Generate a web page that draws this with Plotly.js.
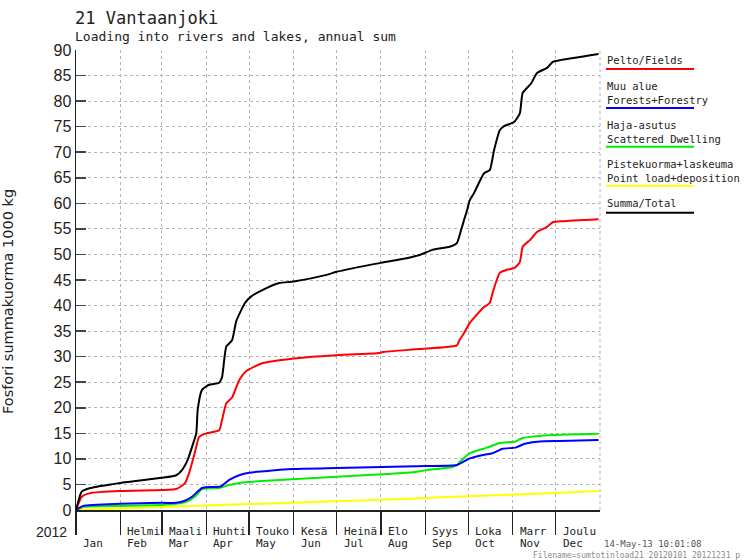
<!DOCTYPE html>
<html>
<head>
<meta charset="utf-8">
<script src="https://cdn.plot.ly/plotly-3.0.1.min.js"></script>
<style>html,body{margin:0;padding:0;background:#fff;}#chart{width:755px;height:560px;}</style>
</head>
<body>
<div id="chart"></div>
<script>
// ---- Data ----
const monthStarts = ['2012-01-01','2012-02-01','2012-03-01','2012-04-01','2012-05-01','2012-06-01',
  '2012-07-01','2012-08-01','2012-09-01','2012-10-01','2012-11-01','2012-12-01'];
const monthsFi = ['', 'Helmi', 'Maali', 'Huhti', 'Touko', 'Kesä', 'Heinä', 'Elo', 'Syys', 'Loka', 'Marr', 'Joulu'];
const monthsEn = ['Jan','Feb','Mar','Apr','May','Jun','Jul','Aug','Sep','Oct','Nov','Dec'];
const yearLabel = '2012';

const fieldsDates = ['2012-01-01','2012-01-05','2012-01-11','2012-02-01','2012-03-01','2012-03-11','2012-03-17','2012-03-20',
  '2012-03-24','2012-03-27','2012-04-01','2012-04-10','2012-04-12','2012-04-15','2012-04-19','2012-04-24','2012-04-29',
  '2012-05-10','2012-05-22','2012-06-14','2012-07-01','2012-07-31','2012-08-02','2012-08-28','2012-09-23','2012-09-25',
  '2012-09-28','2012-10-02','2012-10-05','2012-10-12','2012-10-16','2012-10-18','2012-10-23','2012-10-28','2012-11-02',
  '2012-11-06','2012-11-08','2012-11-13','2012-11-18','2012-11-25','2012-11-29','2012-12-06','2012-12-31'];
const fieldsValues = [0,2.6,3.3,3.7,3.9,4.1,5.2,7.2,11.2,14.3,15.0,15.6,17.6,20.9,22.0,25.4,27.2,
  28.7,29.3,30.0,30.3,30.7,30.9,31.5,32.2,33.3,34.6,36.6,37.6,39.7,40.5,42.5,46.4,47.0,47.3,
  48.5,51.5,52.8,54.4,55.4,56.3,56.5,56.9];

const forestDates = ['2012-01-01','2012-01-06','2012-02-01','2012-03-01','2012-03-11','2012-03-17','2012-03-22','2012-03-29',
  '2012-04-03','2012-04-11','2012-04-17','2012-04-24','2012-05-01','2012-05-31','2012-07-01','2012-08-02','2012-09-02',
  '2012-09-23','2012-10-02','2012-10-14','2012-10-18','2012-10-25','2012-11-03','2012-11-09','2012-11-20','2012-12-04','2012-12-31'];
const forestValues = [0,0.8,1.2,1.4,1.4,1.8,2.6,4.3,4.5,4.6,5.9,6.8,7.3,8.0,8.2,8.4,8.6,8.8,10.1,10.9,11.1,12.0,12.2,12.9,13.4,13.5,13.7];

const dwellingDates = ['2012-01-01','2012-01-06','2012-02-01','2012-03-01','2012-03-11','2012-03-18','2012-03-24','2012-03-29',
  '2012-04-10','2012-04-17','2012-04-24','2012-05-01','2012-05-31','2012-07-01','2012-08-02','2012-08-23','2012-09-02',
  '2012-09-20','2012-09-23','2012-09-25','2012-10-02','2012-10-14','2012-10-23','2012-11-03','2012-11-08','2012-11-20','2012-12-04','2012-12-31'];
const dwellingValues = [0,0.6,0.8,1.0,1.2,1.6,2.6,4.1,4.3,4.9,5.3,5.5,6.0,6.5,7.0,7.4,7.8,8.4,8.8,9.4,11.1,12.2,13.1,13.4,14.1,14.5,14.7,14.9];

const pointDates = ['2012-01-01','2012-02-01','2012-03-01','2012-04-01','2012-05-01','2012-06-01','2012-07-01',
  '2012-08-01','2012-09-01','2012-10-01','2012-11-01','2012-12-01','2012-12-31'];
const pointValues = [0,0.3,0.6,0.9,1.15,1.4,1.7,2.0,2.35,2.7,3.0,3.35,3.7];

const totalDates = ['2012-01-01','2012-01-04','2012-01-05','2012-01-11','2012-02-01','2012-03-01','2012-03-11','2012-03-15',
  '2012-03-19','2012-03-22','2012-03-25','2012-03-26','2012-03-29','2012-04-03','2012-04-10','2012-04-12','2012-04-15',
  '2012-04-19','2012-04-22','2012-04-28','2012-05-02','2012-05-13','2012-05-22','2012-06-01','2012-06-24','2012-07-01',
  '2012-07-31','2012-08-14','2012-08-28','2012-09-06','2012-09-18','2012-09-23','2012-09-26','2012-09-28','2012-09-30',
  '2012-10-02','2012-10-05','2012-10-12','2012-10-16','2012-10-19','2012-10-23','2012-10-26','2012-11-02','2012-11-06',
  '2012-11-08','2012-11-14','2012-11-18','2012-11-25','2012-11-29','2012-12-04','2012-12-31'];
const totalValues = [0,3.0,3.6,4.3,5.3,6.3,6.8,7.8,9.8,12.3,15.0,19.6,23.5,24.5,24.9,26.0,32.0,
  33.2,37.0,40.5,41.7,43.4,44.4,44.7,46.0,46.6,48.3,49.0,49.9,50.9,51.5,52.2,54.8,56.7,58.5,
  60.6,62.0,65.9,66.5,70.4,74.3,75.1,75.9,77.6,81.6,83.5,85.5,86.5,87.7,88.0,89.2];

const seriesNames = ['Pelto/Fields', 'Muu alue<br>Forests+Forestry', 'Haja-asutus<br>Scattered Dwelling',
  'Pistekuorma+laskeuma<br>Point load+deposition', 'Summa/Total'];
const seriesColors = ['#ff0000', '#0000ff', '#00ee00', '#ffff00', '#000000'];
const seriesX = [fieldsDates, forestDates, dwellingDates, pointDates, totalDates];
const seriesY = [fieldsValues, forestValues, dwellingValues, pointValues, totalValues];

const titleText = '21 Vantaanjoki';
const subtitleText = 'Loading into rivers and lakes, annual sum';
const yTitle = 'Fosfori summakuorma 1000 kg';
const stampText = '14-May-13 10:01:08';
const fileText = 'Filename=sumtotinload21 20120101 20121231 p';

// ---- Layout helpers ----
const L = 76, R = 155, T = 50, B = 50, W = 755, H = 560;
const pw = W - L - R, ph = H - T - B;
const py = p => (H - B - p) / ph;       // pixel row -> paper y
const px = p => (p - L) / pw;           // pixel column -> paper x
const MONO = 'DejaVu Sans Mono';

const drawOrder = [3, 2, 1, 0, 4];
const traces = drawOrder.map(i => ({
  type: 'scatter', mode: 'lines', name: seriesNames[i].replace('<br>', ' '),
  x: seriesX[i], y: seriesY[i], showlegend: false,
  line: {color: seriesColors[i], width: 2, shape: 'spline', smoothing: 0.5}, hoverinfo: 'skip'
}));

const annotations = [];
annotations.push({text: titleText, xref: 'paper', yref: 'paper', x: px(73), y: py(17.5), xanchor: 'left', yanchor: 'middle',
  showarrow: false, font: {family: MONO, size: 17, color: '#222'}});
annotations.push({text: subtitleText, xref: 'paper', yref: 'paper', x: px(73), y: py(36.5), xanchor: 'left', yanchor: 'middle',
  showarrow: false, font: {family: MONO, size: 13, color: '#222'}});

monthStarts.forEach((d, i) => {
  if (monthsFi[i]) annotations.push({text: monthsFi[i], xref: 'x', yref: 'paper', x: d, xshift: 5, y: py(531.5),
    xanchor: 'left', yanchor: 'middle', showarrow: false, font: {family: MONO, size: 11, color: '#222'}});
  annotations.push({text: monthsEn[i], xref: 'x', yref: 'paper', x: d, xshift: 5, y: py(543.5),
    xanchor: 'left', yanchor: 'middle', showarrow: false, font: {family: MONO, size: 11, color: '#222'}});
});
annotations.push({text: yearLabel, xref: 'x', yref: 'paper', x: monthStarts[0], xshift: -7, y: py(531.5),
  xanchor: 'right', yanchor: 'middle', showarrow: false, font: {family: 'Liberation Sans', size: 14, color: '#222'}});

// y-axis title (placed like the reference, a little below the plot centre)
annotations.push({text: yTitle, xref: 'paper', yref: 'paper', x: px(8), y: py(302), xanchor: 'center', yanchor: 'middle',
  textangle: -90, showarrow: false, font: {family: 'DejaVu Sans', size: 14.5, color: '#222'}});

const legTextY = [60, 93.3, 132.3, 171, 203];
const legLineY = [69, 108, 146.7, 185.7, 212.7];
const shapes = [];
seriesNames.forEach((n, i) => {
  annotations.push({text: n, xref: 'paper', yref: 'paper', x: px(604.5), y: py(legTextY[i]), xanchor: 'left', yanchor: 'middle',
    align: 'left', showarrow: false, font: {family: MONO, size: 10.5, color: '#222'}});
  shapes.push({type: 'line', xref: 'paper', yref: 'paper', x0: px(606), x1: px(694), y0: py(legLineY[i]), y1: py(legLineY[i]),
    line: {color: seriesColors[i], width: 2}});
});
annotations.push({text: stampText, xref: 'paper', yref: 'paper', x: px(602), y: py(544), xanchor: 'left', yanchor: 'middle',
  showarrow: false, font: {family: MONO, size: 9, color: '#555'}});
annotations.push({text: fileText, xref: 'paper', yref: 'paper', x: px(531), y: py(555), xanchor: 'left', yanchor: 'middle',
  showarrow: false, font: {family: MONO, size: 8, color: '#8a8a8a'}});

// right edge dotted frame line
shapes.push({type: 'line', xref: 'paper', yref: 'paper', x0: 1, x1: 1, y0: 0, y1: 1, line: {color: '#b0b0b0', width: 1, dash: 'dot'}});

const layout = {
  width: W, height: H, margin: {l: L, r: R, t: T, b: B, pad: 0},
  paper_bgcolor: '#fff', plot_bgcolor: '#fff', showlegend: false,
  xaxis: {type: 'date', range: ['2012-01-01', '2013-01-01'], tickvals: monthStarts, ticktext: monthStarts.map(() => ''),
    ticks: 'outside', ticklen: 23, tickwidth: 1.5, tickcolor: '#222', showgrid: true, gridcolor: '#b4b4b4', griddash: 'dot',
    gridwidth: 1, showline: true, linecolor: '#222', linewidth: 1.5, zeroline: false, fixedrange: true},
  yaxis: {range: [0, 90], tick0: 0, dtick: 5, ticks: 'inside', ticklen: 10, tickwidth: 1.5, tickcolor: '#444',
    showgrid: true, gridcolor: '#b4b4b4', griddash: 'dot', gridwidth: 1, showline: true, linecolor: '#222', linewidth: 1.5,
    zeroline: false, tickfont: {family: 'Liberation Sans', size: 16, color: '#222'}, fixedrange: true},
  annotations: annotations, shapes: shapes
};

Plotly.newPlot('chart', traces, layout, {displayModeBar: false, staticPlot: true});
</script>
</body>
</html>
